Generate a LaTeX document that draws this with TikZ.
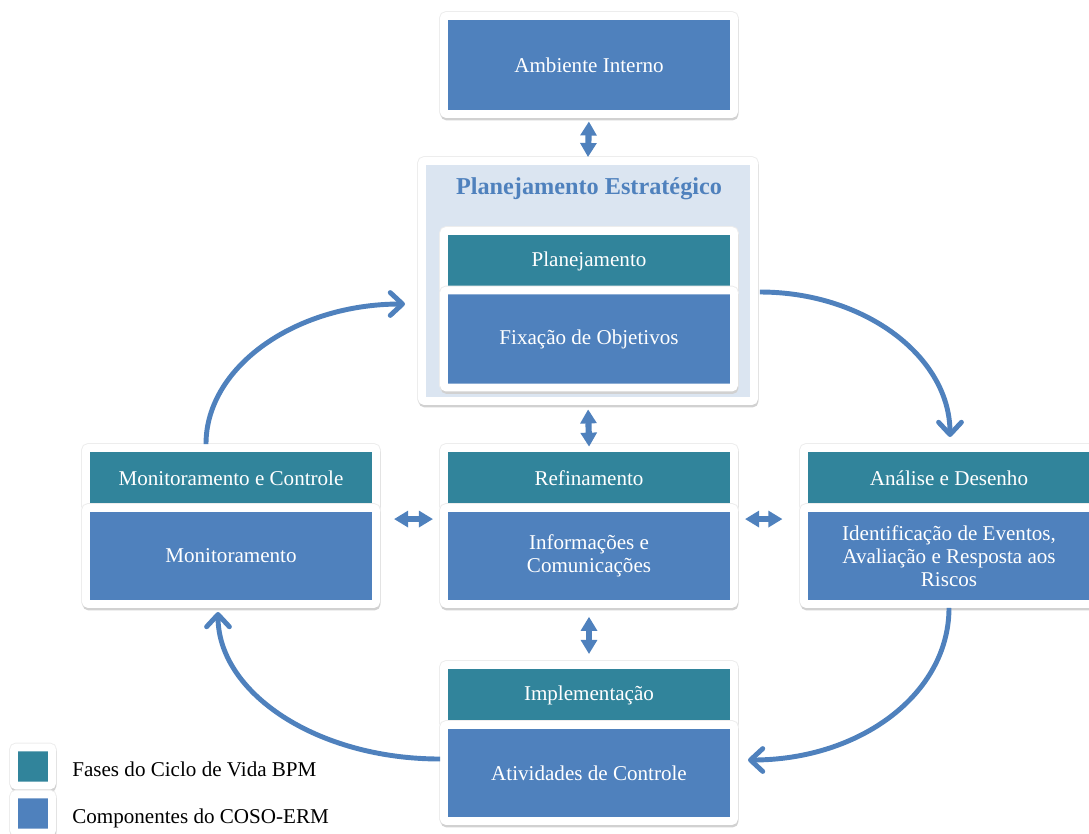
\documentclass[tikz,border=0pt]{standalone}
\usepackage{fontspec}
\setmainfont{Liberation Serif}
\usetikzlibrary{arrows.meta}
\definecolor{bpmteal}{HTML}{31849B}
\definecolor{cosoblue}{HTML}{4F81BD}
\definecolor{pebg}{HTML}{DBE5F1}

\begin{document}
\begin{tikzpicture}[x=0.02cm,y=-0.02cm]

\def\u{0.02cm}
\tikzstyle{card} = [
	draw=white, line width=4.5pt, rounded corners=1.5pt,
	minimum width=290*\u, text=white, align=center,
	font=\fontsize{12}{13.2}\selectfont,
	preaction={draw=black!7, line width=5.6pt},
	preaction={draw=black!18, line width=4.5pt,
		transform canvas={xshift=0.3pt,yshift=-1.4pt}} ];
\tikzstyle{phase} = [card, fill=bpmteal, minimum height=60*\u];
\tikzstyle{comp} = [card, fill=cosoblue, minimum height=96*\u];
\tikzstyle{key} = [card, minimum width=38*\u, minimum height=38*\u];
\tikzstyle{keytext} = [anchor=base west, inner xsep=0pt, font=\fontsize{12}{14}\selectfont];
\tikzstyle{dbl} = [draw=cosoblue, line width=3.5pt, >={Triangle[length=8pt,width=9pt]}, <->];
\tikzstyle{cyc} = [draw=cosoblue, line width=2.8pt, -{Straight Barb[round,length=7pt,width=13pt]}];
\useasboundingbox (0,0) rectangle (1089,833);

\node[comp, minimum height=98*\u] (amb) at (589,65) {Ambiente Interno};

\node[card, fill=pebg, minimum width=332*\u, minimum height=240*\u] (pe) at (588,281) {};
\node[text=cosoblue, font=\bfseries\fontsize{13.8}{16}\selectfont] (pet) at (589,189) {Planejamento Estratégico};
\node[phase] (pla) at (589,261) {Planejamento};
\node[comp, minimum height=97*\u] (fix) at (589,339) {Fixação de Objetivos};

\node[phase] (mc) at (231,478) {Monitoramento e Controle};
\node[comp] (mon) at (231,556) {Monitoramento};
\node[phase] (ref) at (589,478) {Refinamento};
\node[comp] (inf) at (589,556) {Informações e\\Comunicações};
\node[phase] (ana) at (949,478) {Análise e Desenho};
\node[comp] (ide) at (949,556) {Identificação de Eventos,\\Avaliação e Resposta aos\\Riscos};

\node[phase] (imp) at (589,695) {Implementação};
\node[comp] (atv) at (589,773) {Atividades de Controle};

\draw[dbl, shorten <=2pt, shorten >=0pt] (amb.south) -- (pe.north);
\draw[dbl, shorten <=2.5pt, shorten >=-1.5pt] (pe.south) -- (ref.north);
\draw[dbl, shorten <=8pt, shorten >=4pt] ([yshift=-15*\u]mon.north east) -- ([yshift=-15*\u]inf.north west);
\draw[dbl, shorten <=4pt, shorten >=10pt] ([yshift=-15*\u]inf.north east) -- ([yshift=-15*\u]ide.north west);
\draw[dbl, shorten <=5pt, shorten >=4pt] (inf.south) -- (imp.north);

\coordinate (e1) at (405,304);
\coordinate (s2) at ([xshift=2*\u,yshift=-11*\u]pe.east);
\coordinate (e2) at (950,437);
\coordinate (e3) at (748,760);
\coordinate (s4) at ([yshift=14*\u]atv.west);
\coordinate (e4) at (218,612);
\draw[cyc] ([xshift=-25*\u]mc.north) .. controls +(0,-77) and +(-110,0) .. (e1);
\draw[cyc] (s2) .. controls +(105,0) and +(0,-80) .. (e2);
\draw[cyc] (ide.south) .. controls +(0,86) and +(112,0) .. (e3);
\draw[cyc] (s4) .. controls +(-123,0) and +(0,81) .. (e4);

\node[key, fill=bpmteal] (lg1) at (33,766.5) {};
\node[key, fill=cosoblue] (lg2) at (33,813.5) {};
\node[keytext] (lt1) at (72,776) {Fases do Ciclo de Vida BPM};
\node[keytext] (lt2) at (72,823) {Componentes do COSO-ERM};

\end{tikzpicture}
\end{document}
